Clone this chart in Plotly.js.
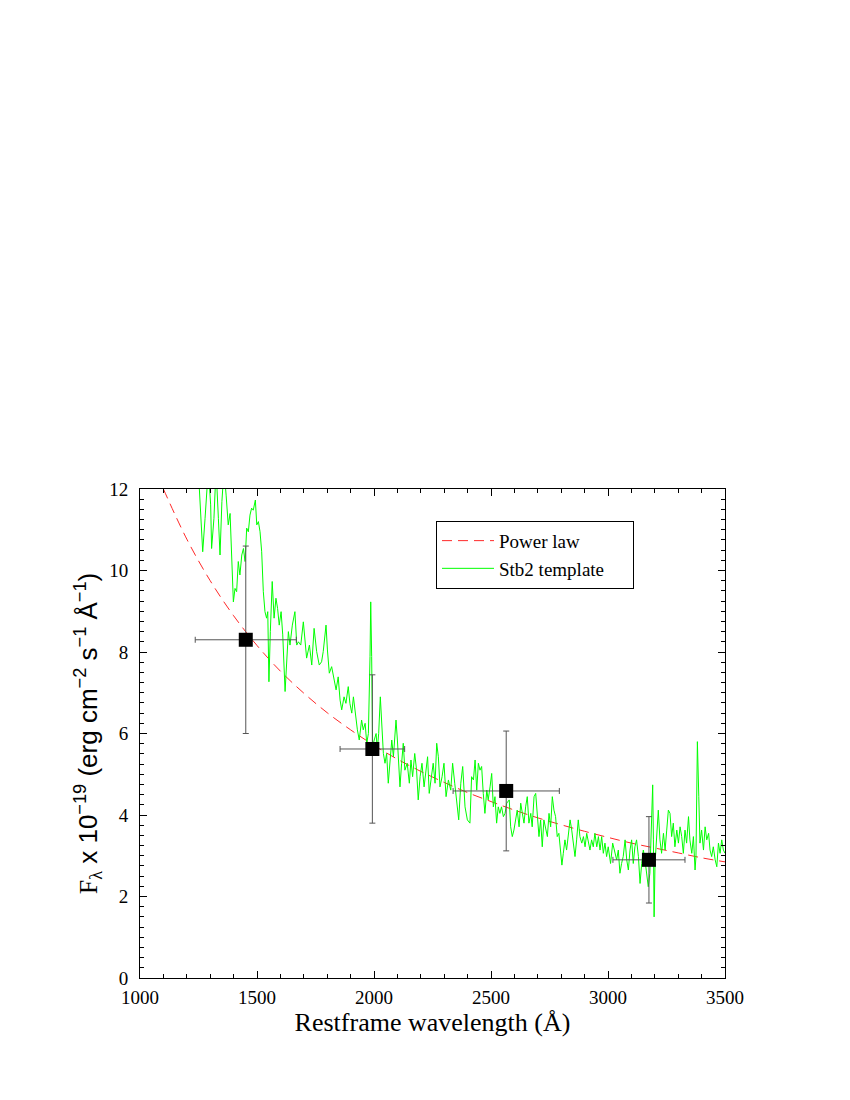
<!DOCTYPE html>
<html>
<head>
<meta charset="utf-8">
<script src="https://cdn.plot.ly/plotly-3.0.1.min.js"></script>
<style>
  body { margin: 0; background: #fff; }
  #plot { width: 850px; height: 1100px; }
</style>
</head>
<body>
<div id="plot"></div>
<script>
// photometric points (restframe wavelength, flux) with errors
let ptX = [1452, 1993, 2565, 3175];
let ptY = [8.30, 5.62, 4.59, 2.90];
let ptXerr = [216, 138, 227, 154];
let ptYerr = [2.30, 1.82, 1.47, 1.06];

// power law curve
let powX = [1100, 1200, 1300, 1400, 1500, 1600, 1700, 1800, 1900, 2000, 2100, 2200, 2300, 2400, 2500, 2600, 2700, 2800, 2900, 3000, 3100, 3200, 3300, 3400, 3500];
let powY = [12.0, 10.77, 9.75, 8.89, 8.16, 7.53, 6.99, 6.51, 6.09, 5.71, 5.37, 5.07, 4.80, 4.55, 4.33, 4.12, 3.93, 3.76, 3.60, 3.45, 3.31, 3.19, 3.07, 2.95, 2.85];

// Stb2 starburst template spectrum
let specX = [1249,1256,1268,1278,1292,1302,1306,1316,1325,1335,1342,1350,1359,1368,1377,1385,1392,1399,1406,1413,1420,1427,1435,1442,1449,1456,1463,1470,1477,1484,1493,1499,1506,1513,1520,1527,1534,1541,1546,1551,1557,1565,1573,1581,1588,1595,1603,1610,1620,1627,1634,1641,1651,1662,1670,1677,1687,1698,1705,1712,1724,1734,1744,1755,1766,1776,1783,1795,
  1801,1809,1819,1829,1838,1847,1855,1862,1872,1880,1890,1897,1905,1912,1919,1929,1937,1947,1954,1962,1969,1976,1983,1986,1990,1994,2001,2009,2014,2020,2027,2034,2040,2047,2054,2061,2068,2076,2083,2094,2100,2107,2111,2118,2125,2132,2142,2151,2158,2165,2174,2182,2189,2197,2205,2214,2222,2229,2236,2245,2253,2261,2268,2275,2282,2291,2299,2308,2318,2328,2336,2345,2353,2362,2371,2379,2389,
  2399,2410,2417,2425,2432,2439,2446,2453,2460,2467,2474,2482,2488,2496,2503,2510,2517,2524,2531,2538,2545,2553,2560,2567,2578,2584,2591,2598,2606,2612,2620,2627,2634,2641,2648,2655,2662,2670,2676,2684,2691,2698,2705,2712,2719,2726,2734,2741,2748,2755,2762,2769,2776,2783,2790,2798,2803,2809,2816,2823,2830,2838,2845,2852,2859,2866,2873,2880,2888,2895,2902,2909,2916,2923,2930,2937,2944,2952,2959,2966,2973,2980,2987,2994,3001,
  3011,3020,3028,3037,3044,3051,3058,3065,3073,3080,3087,3094,3101,3108,3115,3122,3130,3137,3144,3151,3158,3172,3179,3187,3191,3194,3197,3201,3208,3215,3222,3229,3237,3244,3251,3258,3265,3272,3279,3286,3294,3301,3308,3315,3322,3329,3336,3344,3350,3358,3365,3372,3376,3382,3388,3393,3400,3408,3415,3422,3430,3436,3443,3450,3458,3465,3472,3479,3486,3493,3500];
let specY = [12.5,11.61,10.46,11.28,12.5,11.61,10.54,11.28,12.5,11.28,10.38,11.69,12.5,11.85,11.12,11.40,10.46,9.23,9.56,9.48,10.22,9.89,10.38,10.54,10.22,11.04,10.95,11.36,11.53,11.48,11.73,11.12,11.20,10.95,10.46,9.48,8.99,8.83,8.99,7.27,8.50,9.73,8.83,9.32,9.07,8.66,8.99,8.42,7.03,7.68,8.50,8.17,8.66,8.99,8.17,8.25,8.17,8.74,8.25,7.85,8.17,7.68,8.58,8.01,7.68,7.76,8.01,8.66,
  8.05,7.48,7.64,7.31,7.07,7.39,6.82,6.58,6.90,6.74,7.15,6.74,6.50,6.90,6.50,6.09,5.84,6.33,6.09,6.25,5.76,6.00,7.89,9.23,7.89,5.68,5.84,6.00,5.60,6.00,6.90,6.00,5.51,5.27,5.51,4.78,5.27,5.84,5.43,6.33,5.84,5.19,4.69,5.27,5.76,5.10,5.27,4.78,5.35,4.94,5.51,5.10,4.37,4.94,5.27,4.69,5.10,5.43,4.53,4.94,5.27,4.78,5.76,5.43,4.69,4.94,5.27,4.45,4.86,4.61,5.27,4.78,4.29,3.88,4.78,5.19,4.20,
  3.88,3.80,4.94,4.86,5.35,4.61,5.27,5.10,5.19,4.53,4.04,4.61,4.37,4.69,5.02,4.20,4.45,3.80,4.20,4.04,4.20,3.96,4.04,4.29,4.37,3.71,3.47,3.63,3.88,4.12,3.71,4.29,4.04,3.80,4.20,4.45,3.80,4.04,3.71,4.45,4.53,3.88,3.47,3.88,3.22,3.88,3.63,3.47,4.04,3.71,4.45,4.12,3.96,3.47,3.55,2.98,2.77,3.06,3.39,3.14,3.47,3.88,3.63,3.22,2.98,3.39,3.88,3.47,3.31,3.47,3.22,3.55,3.31,3.14,3.39,3.22,3.55,3.22,3.47,3.14,3.47,3.06,3.31,2.98,3.22,
  2.81,3.31,3.14,2.90,3.14,2.57,2.81,2.98,3.39,2.90,2.65,3.14,3.39,2.81,3.22,3.39,2.98,2.32,2.81,3.14,2.90,2.24,2.57,3.80,4.74,3.39,1.50,2.81,3.63,4.12,3.39,3.06,3.55,3.14,3.63,4.12,4.04,3.47,3.80,3.22,3.63,3.31,3.71,3.47,3.06,3.63,3.31,3.96,3.39,3.06,3.47,2.65,2.98,5.80,4.45,3.31,3.63,3.14,3.71,3.39,3.55,3.14,2.98,3.22,2.90,2.73,3.31,3.06,3.39,3.14,3.06];

let serif = "Liberation Serif";
let sans = "Liberation Sans";

let traces = [
  {
    x: powX, y: powY,
    mode: "lines", type: "scatter",
    name: "Power law",
    line: {color: "rgb(255,40,40)", width: 1, dash: "10px,6px", shape: "spline"}
  },
  {
    x: specX, y: specY,
    mode: "lines", type: "scatter",
    name: "Stb2 template\u00a0\u00a0\u00a0\u00a0\u00a0",
    line: {color: "rgb(0,255,0)", width: 1}
  },
  {
    x: ptX, y: ptY,
    mode: "markers", type: "scatter",
    showlegend: false,
    marker: {symbol: "square", size: 14, color: "black"},
    error_x: {type: "data", array: ptXerr, visible: true, color: "#555", thickness: 1, width: 3},
    error_y: {type: "data", array: ptYerr, visible: true, color: "#555", thickness: 1, width: 3}
  }
];

let layout = {
  width: 850, height: 1100,
  margin: {l: 140, r: 125, t: 489, b: 122},
  paper_bgcolor: "white", plot_bgcolor: "white",
  font: {family: serif, color: "black"},
  showlegend: true,
  hovermode: false,
  legend: {
    x: 0.506, y: 0.935, xanchor: "left", yanchor: "top",
    bgcolor: "white", bordercolor: "black", borderwidth: 1,
    itemwidth: 52, tracegroupgap: 0,
    font: {family: serif, size: 19, color: "black"}
  },
  xaxis: {
    range: [1000, 3500], dtick: 500,
    showgrid: false, zeroline: false,
    showline: true, linecolor: "black", linewidth: 1, mirror: "allticks",
    ticks: "inside", ticklen: 7, tickcolor: "black",
    minor: {ticks: "inside", ticklen: 4, dtick: 100, tickcolor: "black"},
    ticklabelstandoff: 2,
    tickfont: {family: serif, size: 19, color: "black"},
    title: {text: "Restframe wavelength (Å)", font: {family: serif, size: 26, color: "black"}, standoff: 0}
  },
  yaxis: {
    range: [0, 12], dtick: 2,
    showgrid: false, zeroline: false,
    showline: true, linecolor: "black", linewidth: 1, mirror: "allticks",
    ticks: "inside", ticklen: 7, tickcolor: "black",
    minor: {ticks: "inside", ticklen: 4, dtick: 0.25, tickcolor: "black"},
    ticklabelstandoff: 7,
    tickfont: {family: serif, size: 19, color: "black"},
    title: {
      text: '<span style="font-family:Liberation Serif">F<sub>λ</sub></span> x 10<sup>−19</sup> (erg cm<sup>−2</sup> s<sup>−1</sup> Å<sup>−1</sup>)',
      font: {family: sans, size: 26, color: "black"}, standoff: 4
    }
  }
};

Plotly.newPlot("plot", traces, layout, {staticPlot: true});
</script>
</body>
</html>
